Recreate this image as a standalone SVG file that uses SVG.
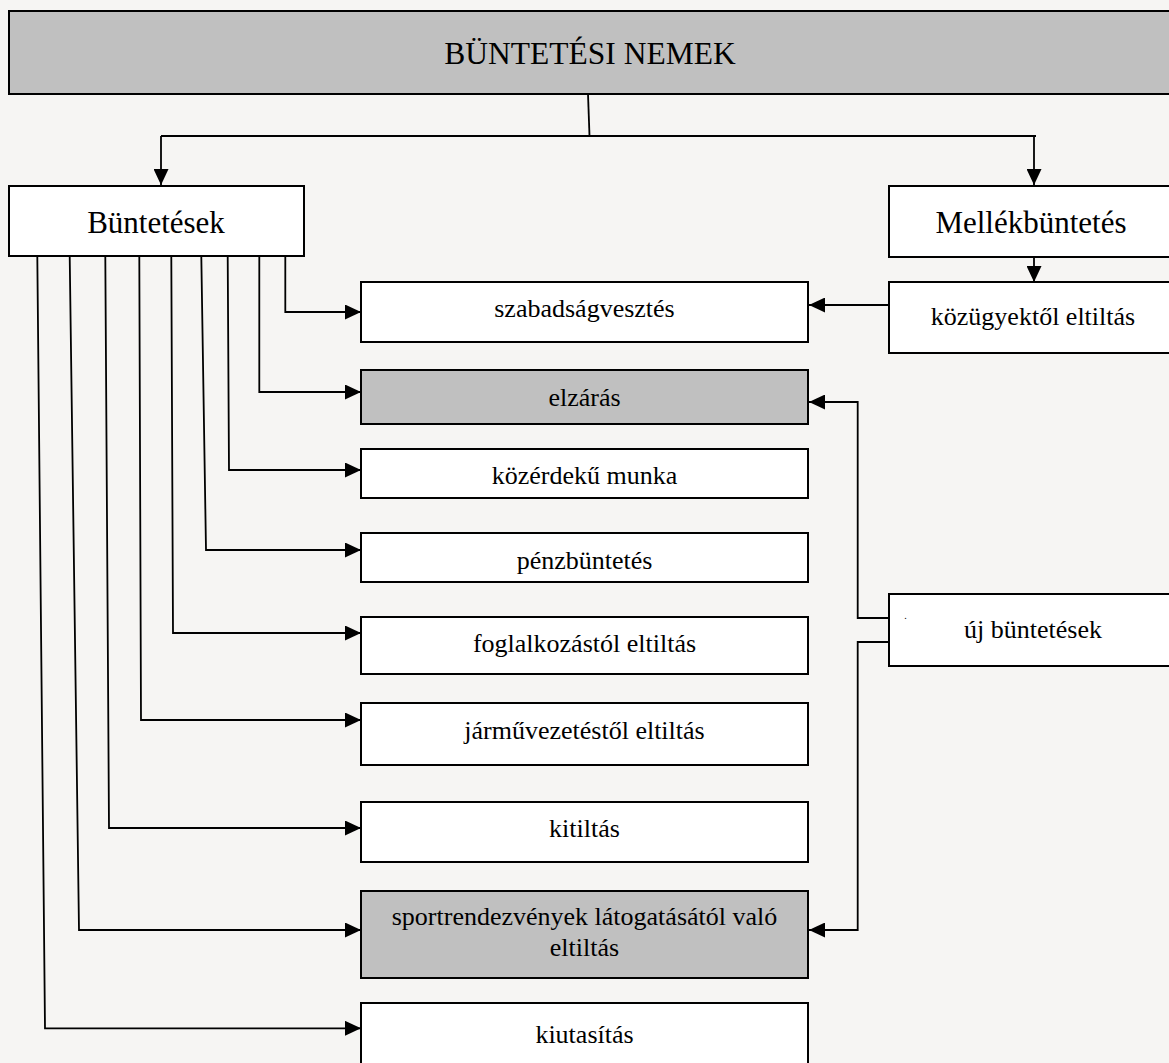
<svg xmlns="http://www.w3.org/2000/svg" width="1169" height="1063" viewBox="0 0 1169 1063">
<style>
  .box { fill: #ffffff; stroke: #000000; stroke-width: 2; }
  .grey { fill: #c0c0c0; stroke: #000000; stroke-width: 2; }
  .t { font-family: 'Liberation Serif', Tinos, 'Times New Roman', Times, 'DejaVu Serif', serif; fill: #000000; text-anchor: middle; }
  .big { font-size: 31.5px; }
  .mid { font-size: 31px; }
  .sm { font-size: 26px; }
  .ln { fill: none; stroke: #000000; stroke-width: 1.8; }
  .arr { fill: none; stroke: #000000; stroke-width: 1.8; marker-end: url(#ah); }
</style>
<defs>
  <marker id="ah" markerUnits="userSpaceOnUse" markerWidth="16" markerHeight="15" refX="16" refY="7.5" orient="auto">
    <path d="M0,0 L16,7.5 L0,15 Z" fill="#000000"/>
  </marker>
</defs>
<rect x="0" y="0" width="1169" height="1063" fill="#f6f5f3"/>

<g id="connectors">
  <line class="ln" x1="588" y1="94" x2="589.5" y2="136"/>
  <line class="ln" x1="161" y1="136" x2="1036" y2="136"/>
  <line class="arr" x1="161" y1="136" x2="161" y2="185"/>
  <line class="arr" x1="1034" y1="136" x2="1034" y2="185"/>
  <line class="arr" x1="1034" y1="257" x2="1034" y2="282"/>
  <polyline class="arr" points="37.3,256 45,1028.3 361,1028.3"/>
  <polyline class="arr" points="69.7,256 79,930 361,930"/>
  <polyline class="arr" points="105.3,256 109,828 361,828"/>
  <polyline class="arr" points="139.3,256 141,720 361,720"/>
  <polyline class="arr" points="171.3,256 173,633 361,633"/>
  <polyline class="arr" points="201.3,256 206,550 361,550"/>
  <polyline class="arr" points="227.7,256 229,470 361,470"/>
  <polyline class="arr" points="259.3,256 259.3,392 361,392"/>
  <polyline class="arr" points="285.3,256 285.3,312 361,312"/>
  <line class="arr" x1="889" y1="305" x2="809" y2="305"/>
  <polyline class="arr" points="889,618 857.7,618 857.7,402 809,402"/>
  <polyline class="arr" points="889,642 857.7,642 857.7,930 809,930"/>
</g>

<g id="n-buntetesi-nemek">
  <rect class="grey" x="9" y="11" width="1172" height="83"/>
  <text class="t big" x="590" y="63.5">BÜNTETÉSI NEMEK</text>
</g>
<g id="n-buntetesek">
  <rect class="box" x="9" y="186" width="295" height="70"/>
  <text class="t mid" x="156" y="233">Büntetések</text>
</g>
<g id="n-mellekbuntetes">
  <rect class="box" x="889" y="186" width="292" height="71"/>
  <text class="t mid" x="1031" y="233">Mellékbüntetés</text>
</g>
<g id="n-kozugyektol">
  <rect class="box" x="889" y="282" width="292" height="71"/>
  <text class="t sm" x="1033" y="324.5">közügyektől eltiltás</text>
</g>
<g id="n-uj-buntetesek">
  <rect class="box" x="889" y="594" width="292" height="72"/>
  <text class="t" x="905.5" y="619" font-size="10px">.</text>
  <text class="t sm" x="1033" y="638">új büntetések</text>
</g>
<g id="n-szabadsagvesztes">
  <rect class="box" x="361" y="282" width="447" height="60"/>
  <text class="t sm" x="584.5" y="317">szabadságvesztés</text>
</g>
<g id="n-elzaras">
  <rect class="grey" x="361" y="370" width="447" height="54"/>
  <text class="t sm" x="584.5" y="406">elzárás</text>
</g>
<g id="n-kozerdeku">
  <rect class="box" x="361" y="449" width="447" height="49"/>
  <text class="t sm" x="584.5" y="483.5">közérdekű munka</text>
</g>
<g id="n-penzbuntetes">
  <rect class="box" x="361" y="533" width="447" height="49"/>
  <text class="t sm" x="584.5" y="568.5">pénzbüntetés</text>
</g>
<g id="n-foglalkozastol">
  <rect class="box" x="361" y="617" width="447" height="57"/>
  <text class="t sm" x="584.5" y="652">foglalkozástól eltiltás</text>
</g>
<g id="n-jarmuvezetestol">
  <rect class="box" x="361" y="703" width="447" height="62"/>
  <text class="t sm" x="584.5" y="738.5">járművezetéstől eltiltás</text>
</g>
<g id="n-kitiltas">
  <rect class="box" x="361" y="802" width="447" height="60"/>
  <text class="t sm" x="584.5" y="837">kitiltás</text>
</g>
<g id="n-sportrendezvenyek">
  <rect class="grey" x="361" y="891" width="447" height="87"/>
  <text class="t sm" x="584.5" y="925">sportrendezvények látogatásától való</text>
  <text class="t sm" x="584.5" y="956">eltiltás</text>
</g>
<g id="n-kiutasitas">
  <rect class="box" x="361" y="1003" width="447" height="80"/>
  <text class="t sm" x="584.5" y="1042.5">kiutasítás</text>
</g>
</svg>
